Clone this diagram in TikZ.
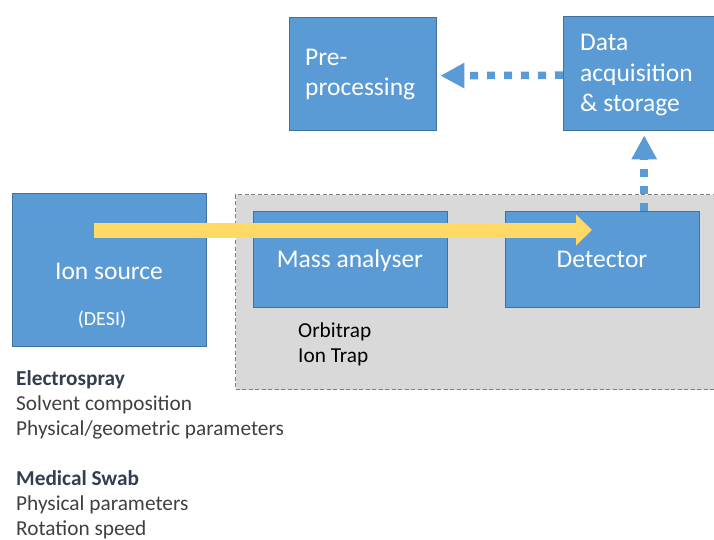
\documentclass[tikz,border=0pt]{standalone}
\usepackage{fontspec}
\setmainfont{Carlito}
\usetikzlibrary{arrows.meta}
\definecolor{boxblue}{HTML}{5B9BD5}
\definecolor{boxedge}{HTML}{41719C}
\definecolor{regiongray}{HTML}{D9D9D9}
\definecolor{dashgray}{HTML}{7F7F7F}
\definecolor{arrowyellow}{HTML}{FFD966}
\definecolor{textgray}{HTML}{404040}
\definecolor{headslate}{HTML}{333F50}
\tikzset{
  bluebox/.style={draw=boxedge, fill=boxblue, line width=1.4pt, inner sep=0pt, anchor=north west, text=white},
  region/.style={draw=dashgray, fill=regiongray, line width=1.3pt, dash pattern=on 4pt off 2.5pt, anchor=north west, inner sep=0pt},
  bigtext/.style={font=\fontsize{25.5}{30.5}\selectfont, text=white, inner sep=0pt},
  smalltext/.style={font=\fontsize{21.3}{25}\selectfont, inner sep=0pt, anchor=base west},
  headtext/.style={smalltext, text=headslate, font=\fontsize{21.3}{25}\selectfont\bfseries},
  dotarrow/.style={draw=boxblue, line width=7.5pt, dash pattern=on 8pt off 9pt, -{Triangle[length=24pt,width=24pt]}},
  yellowarrow/.style={draw=arrowyellow, line width=15pt, -{Triangle[length=16pt,width=30pt]}}
}
\begin{document}
\begin{tikzpicture}[x=1pt,y=-1pt]
\useasboundingbox (0,0) rectangle (714,540);
% instrument region
\node[region, minimum width=520pt, minimum height=195pt] (instr) at (235,194) {};
% boxes
\node[bluebox, minimum width=147pt, minimum height=113pt] (pre) at (289,17) {};
\node[bluebox, minimum width=161pt, minimum height=114pt] (data) at (563,16) {};
\node[bluebox, minimum width=194pt, minimum height=153pt] (ion) at (12,193) {};
\node[bluebox, minimum width=194pt, minimum height=96pt] (mass) at (253,211) {};
\node[bluebox, minimum width=194pt, minimum height=96pt] (det) at (505,211) {};
% box texts (base anchor = baseline of the last line)
\node[bigtext, align=left, anchor=base west] (pretxt) at (305,96) {Pre-\\processing};
\node[bigtext, align=left, anchor=base west] (datatxt) at (580,112) {Data\\acquisition\\\& storage};
\node[bigtext, anchor=base] (iontxt) at (109,279) {Ion source};
\node[font=\fontsize{20}{24}\selectfont, text=white, inner sep=0pt, anchor=base] (desitxt) at (102,325) {(DESI)};
\node[bigtext, anchor=base] (masstxt) at (350,267) {Mass analyser};
\node[bigtext, anchor=base] (dettxt) at (602,267) {Detector};
% analyser types
\node[smalltext, text=black] (orbi) at (298,337) {Orbitrap};
\node[smalltext, text=black] (iontrap) at (298,362) {Ion Trap};
% parameters
\node[headtext] (es) at (16,385) {Electrospray};
\node[smalltext, text=textgray] (es1) at (16,410) {Solvent composition};
\node[smalltext, text=textgray] (es2) at (16,435) {Physical/geometric parameters};
\node[headtext] (ms) at (16,485) {Medical Swab};
\node[smalltext, text=textgray] (ms1) at (16,510) {Physical parameters};
\node[smalltext, text=textgray] (ms2) at (16,535) {Rotation speed};
% ion beam
\coordinate (beamstart) at (94,230);
\coordinate (beamend) at (592,230);
\draw[yellowarrow] (beamstart) -- (beamend);
% data flow
\draw[dotarrow, shorten >=3pt] ([yshift=-1.5pt]data.west) -- ([yshift=-1.5pt]pre.east);
\draw[dotarrow, shorten >=4pt] (det.north -| data.south) -- (data.south);
\end{tikzpicture}
\end{document}
